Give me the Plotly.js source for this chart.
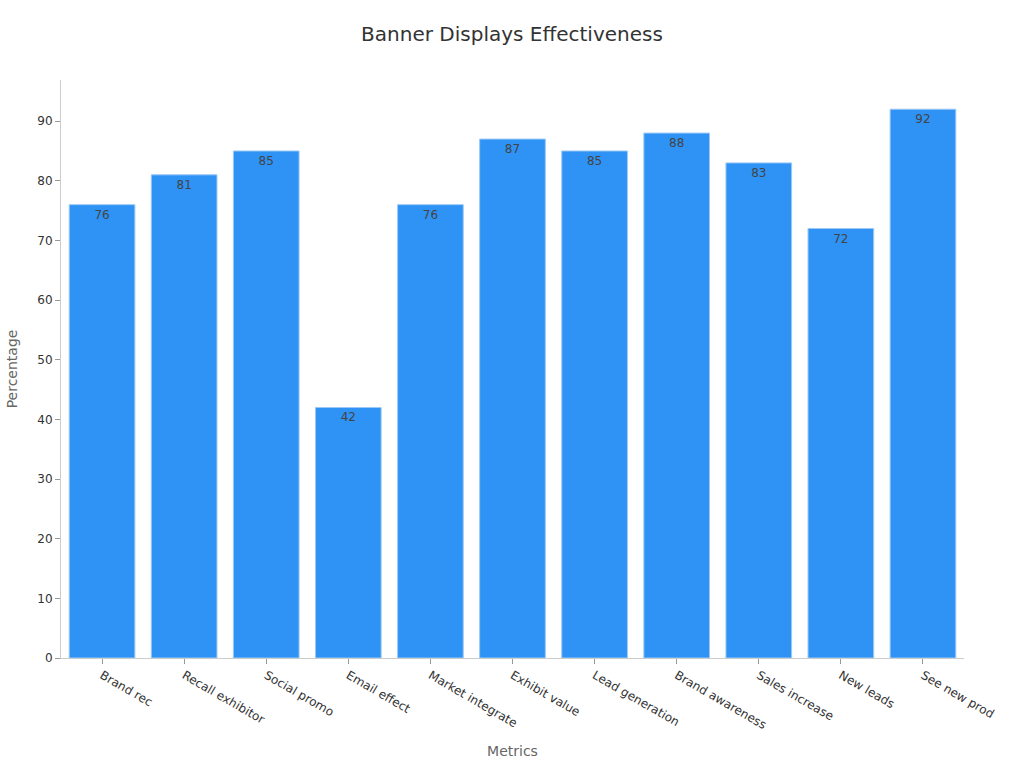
<!DOCTYPE html>
<html>
<head>
<meta charset="utf-8">
<script src="https://cdn.plot.ly/plotly-3.0.1.min.js"></script>
<style>
  html, body { margin: 0; padding: 0; background: #fff; }
  #chart { width: 1024px; height: 768px; }
</style>
</head>
<body>
<div id="chart"></div>
<script>
const metrics = ['Brand rec', 'Recall exhibitor', 'Social promo', 'Email effect', 'Market integrate',
  'Exhibit value', 'Lead generation', 'Brand awareness', 'Sales increase', 'New leads', 'See new prod'];
const percentages = [76, 81, 85, 42, 76, 87, 85, 88, 83, 72, 92];

const data = [{
  type: 'bar',
  x: metrics,
  y: percentages,
  text: percentages.map(String),
  textposition: 'inside',
  insidetextanchor: 'end',
  textfont: { family: 'DejaVu Sans', size: 12, color: '#444' },
  marker: { color: '#2E93F5', line: { color: '#9cc8f5', width: 1 } },
  hoverinfo: 'none'
}];

const layout = {
  width: 1024,
  height: 768,
  margin: { l: 61, r: 60, t: 80, b: 110 },
  font: { family: 'DejaVu Sans', color: '#333' },
  title: { text: 'Banner Displays Effectiveness', font: { size: 20, color: '#333' }, x: 0.5, y: 0.965 },
  bargap: 0.2,
  paper_bgcolor: '#fff',
  plot_bgcolor: '#fff',
  xaxis: {
    title: { text: 'Metrics', font: { size: 14, color: '#666' }, standoff: 15 },
    tickangle: 30,
    tickfont: { size: 12, color: '#333' },
    showline: true,
    linecolor: '#ccc',
    ticks: 'outside',
    tickcolor: '#999',
    ticklen: 5,
    showgrid: false
  },
  yaxis: {
    title: { text: 'Percentage', font: { size: 14, color: '#666' }, standoff: 16 },
    range: [0, 96.9],
    dtick: 10,
    tickfont: { size: 12, color: '#333' },
    showline: true,
    linecolor: '#ccc',
    ticks: 'outside',
    tickcolor: '#999',
    ticklen: 5,
    showgrid: false,
    zeroline: false
  },
  showlegend: false
};

Plotly.newPlot('chart', data, layout, { displayModeBar: false, staticPlot: true });
</script>
</body>
</html>
